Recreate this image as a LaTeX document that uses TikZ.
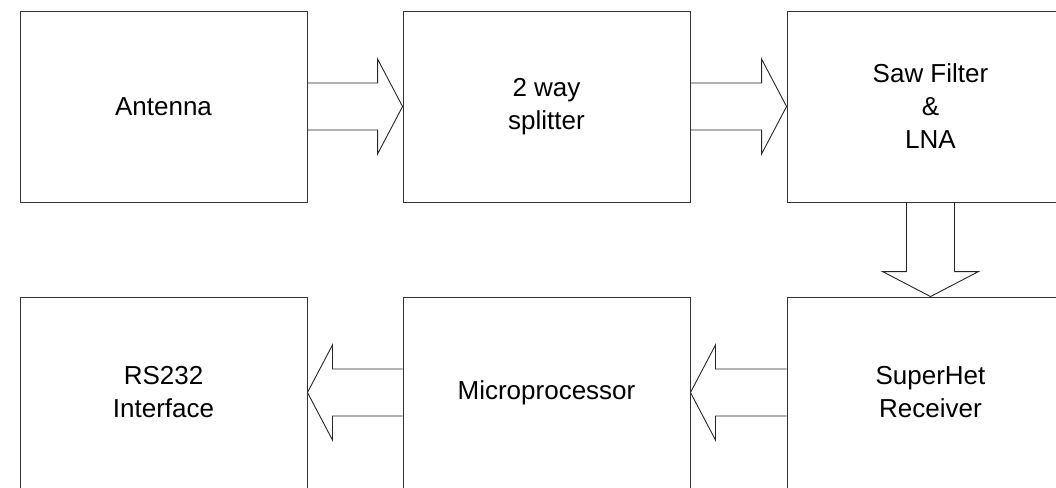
\documentclass[tikz,border=0pt]{standalone}
\usepackage{fontspec}
\setmainfont{Liberation Sans}
\usetikzlibrary{calc}
\tikzset{
  blk/.style={draw=black!80, line width=0.9pt, minimum width=287pt, minimum height=191pt, inner sep=0pt, align=center, font=\fontsize{26}{33}\selectfont},
  barrow/.style={draw=black!85, line width=0.9pt, line join=miter}
}
\begin{document}
\begin{tikzpicture}[x=1pt,y=1pt]
\useasboundingbox (0,0) rectangle (1056,-487);
\node[blk] (ant) at (163.5,-106.5) {Antenna};
\node[blk] (spl) at (546.5,-106.5) {2 way\\splitter};
\node[blk] (saw) at (930.5,-106.5) {Saw Filter\\\&\\LNA};
\node[blk] (rs) at (163.5,-392.5) {RS232\\Interface};
\node[blk] (mic) at (546.5,-392.5) {Microprocessor};
\node[blk] (sup) at (930.5,-392.5) {SuperHet\\Receiver};
% right arrows
\draw[barrow] ($(ant.east)+(0,23.5)$) -- ($(spl.west)+(-25,23.5)$) -- ($(spl.west)+(-25,47.5)$) -- (spl.west) -- ($(spl.west)+(-25,-47.5)$) -- ($(spl.west)+(-25,-23.5)$) -- ($(ant.east)+(0,-23.5)$);
\draw[barrow] ($(spl.east)+(0,23.5)$) -- ($(saw.west)+(-25,23.5)$) -- ($(saw.west)+(-25,47.5)$) -- (saw.west) -- ($(saw.west)+(-25,-47.5)$) -- ($(saw.west)+(-25,-23.5)$) -- ($(spl.east)+(0,-23.5)$);
% down arrow
\draw[barrow] ($(saw.south)+(-24,0)$) -- ($(sup.north)+(-24,25)$) -- ($(sup.north)+(-48,25)$) -- (sup.north) -- ($(sup.north)+(48,25)$) -- ($(sup.north)+(24,25)$) -- ($(saw.south)+(24,0)$);
% left arrows
\draw[barrow] ($(sup.west)+(0,23.5)$) -- ($(mic.east)+(25,23.5)$) -- ($(mic.east)+(25,47.5)$) -- (mic.east) -- ($(mic.east)+(25,-47.5)$) -- ($(mic.east)+(25,-23.5)$) -- ($(sup.west)+(0,-23.5)$);
\draw[barrow] ($(mic.west)+(0,23.5)$) -- ($(rs.east)+(25,23.5)$) -- ($(rs.east)+(25,47.5)$) -- (rs.east) -- ($(rs.east)+(25,-47.5)$) -- ($(rs.east)+(25,-23.5)$) -- ($(mic.west)+(0,-23.5)$);
\end{tikzpicture}
\end{document}
